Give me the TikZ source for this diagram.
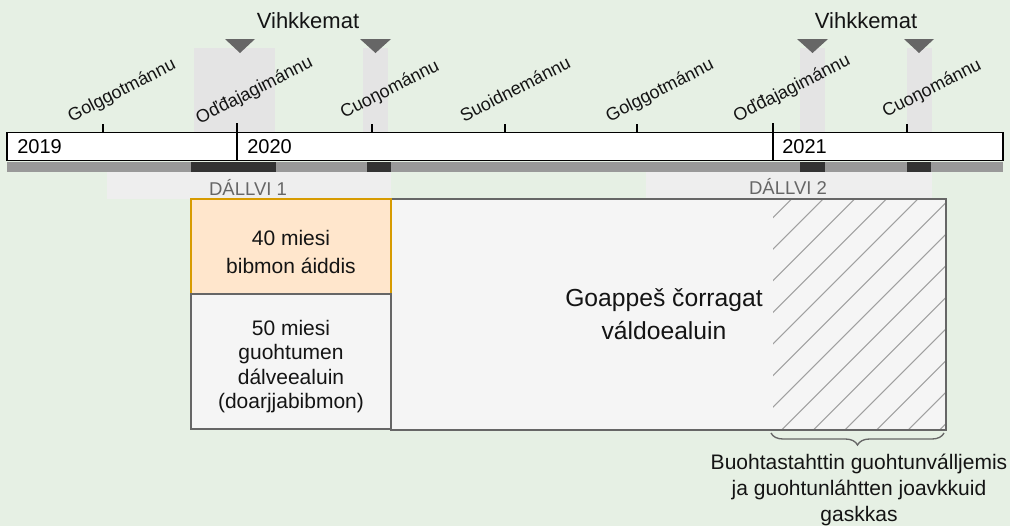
\documentclass[tikz,border=0pt]{standalone}
\usepackage{fontspec}
\setmainfont{Liberation Sans}
\usetikzlibrary{decorations.pathreplacing}
\definecolor{bgc}{RGB}{230,240,228}
\definecolor{hlc}{RGB}{228,228,228}
\definecolor{bandc}{RGB}{238,238,238}
\definecolor{stripc}{RGB}{153,153,153}
\definecolor{darkc}{RGB}{51,51,51}
\definecolor{tric}{RGB}{102,102,102}
\definecolor{orfill}{RGB}{255,230,204}
\definecolor{orline}{RGB}{215,155,0}
\definecolor{boxfill}{RGB}{245,245,245}
\definecolor{boxline}{RGB}{102,102,102}
\definecolor{hatchc}{RGB}{160,160,160}
\definecolor{txtc}{RGB}{20,20,20}
\begin{document}
\begin{tikzpicture}[x=0.75pt,y=-0.75pt,
  month/.style={rotate=27,inner sep=0pt,text=txtc,font=\fontsize{13.5pt}{16pt}\selectfont},
  vihk/.style={anchor=base,inner sep=0pt,text=txtc,font=\fontsize{16.5pt}{20pt}\selectfont},
  year/.style={anchor=base west,inner sep=0pt,text=black,font=\fontsize{15pt}{18pt}\selectfont},
  dall/.style={anchor=base,inner sep=0pt,text=tric,font=\fontsize{13.9pt}{16pt}\selectfont},
  tick/.style={line width=1pt,black},
  tri/.style={fill=tric},
  hl/.style={fill=hlc},
  boxtxt/.style={align=center,inner sep=0pt,text=txtc}
]
\fill[bgc] (0,0) rectangle (1010,526);
\useasboundingbox (0,0) rectangle (1010,526);

% highlight columns
\fill[hlc] (194,48) rectangle (275,132);
\fill[hlc] (363,48) rectangle (388,132);
\fill[hlc] (800,48) rectangle (825,132);
\fill[hlc] (907,48) rectangle (932,132);

% triangles
\fill[tri] (225,39) -- (255,39) -- (240,53) -- cycle;
\fill[tri] (360,39) -- (391,39) -- (375.5,53) -- cycle;
\fill[tri] (797,39) -- (828,39) -- (812.5,53) -- cycle;
\fill[tri] (904,39) -- (934,39) -- (919,53) -- cycle;

\node[vihk] (v1) at (308,28.3) {Vihkkemat};
\node[vihk] (v2) at (866,28.3) {Vihkkemat};

% month labels
\node[month] (m1) at (122,91) {Golggotmánnu};
\node[month] (m2) at (254.5,91) {Oďđajagimánnu};
\node[month] (m3) at (390,90) {Cuoŋománnu};
\node[month] (m4) at (515,89) {Suoidnemánnu};
\node[month] (m5) at (660,91) {Golggotmánnu};
\node[month] (m6) at (792,89) {Oďđajagimánnu};
\node[month] (m7) at (932,89) {Cuoŋománnu};

% ticks
\draw[tick] (103,124) -- (103,132);
\draw[tick] (372,124) -- (372,132);
\draw[tick] (505,124) -- (505,132);
\draw[tick] (637,124) -- (637,132);
\draw[tick] (907,124) -- (907,132);

% bar
\draw[line width=1.1pt,fill=white] (7,132.5) rectangle (1003,160.5);
\draw[tick] (237,123) -- (237,160.5);
\draw[tick] (773,123) -- (773,160.5);
\node[year] (y1) at (17,153.3) {2019};
\node[year] (y2) at (247,153.3) {2020};
\node[year] (y3) at (782,153.3) {2021};

% strip
\fill[stripc] (7,161.5) rectangle (1003,171.5);
\fill[darkc] (191,161.5) rectangle (276,171.5);
\fill[darkc] (367,161.5) rectangle (391,171.5);
\fill[darkc] (800,161.5) rectangle (825,171.5);
\fill[darkc] (907,161.5) rectangle (931,171.5);

% bands
\fill[bandc] (107,172) rectangle (391,199);
\fill[bandc] (646,172) rectangle (932,199);
\node[dall] (d1) at (248,195) {DÁLLVI 1};
\node[dall] (d2) at (788,194.5) {DÁLLVI 2};

% big box
\fill[boxfill] (391,199) rectangle (946,430);
\begin{scope}
  \clip (773,199) rectangle (946,430);
  \foreach \k in {-8,...,6} {
    \draw[hatchc,line width=0.8pt] ({1211.7+\k*31.6-430-300},730) -- ({1211.7+\k*31.6-430+300},130);
  }
\end{scope}
\draw[boxline,line width=1.1pt] (391,199) rectangle (946,430);

% left boxes
\draw[orline,fill=orfill,line width=1pt] (191,199) rectangle (391,294);
\draw[boxline,fill=boxfill,line width=1.1pt] (191,294) rectangle (391,429);

\node[boxtxt,font=\fontsize{15.75pt}{20.8pt}\selectfont] (b1) at (291,252.2) {40 miesi\\bibmon áiddis};
\node[boxtxt,font=\fontsize{15.75pt}{18.4pt}\selectfont] (b2) at (291,366.4) {50 miesi\\guohtumen\\dálveealuin\\(doarjjabibmon)};
\node[boxtxt,font=\fontsize{18.5pt}{25pt}\selectfont] (b3) at (664,314.2) {Goappeš čorragat\\váldoealuin};

% brace
\coordinate (br1) at (944,433);
\coordinate (br2) at (771,433);
\draw[boxline,line width=1pt,decorate,decoration={brace,amplitude=9pt}] (br1) -- (br2);
\node[boxtxt,font=\fontsize{15.75pt}{19.4pt}\selectfont] (b4) at (859,489.7) {Buohtastahttin guohtunválljemis\\ja guohtunláhtten joavkkuid\\gaskkas};
\end{tikzpicture}
\end{document}
